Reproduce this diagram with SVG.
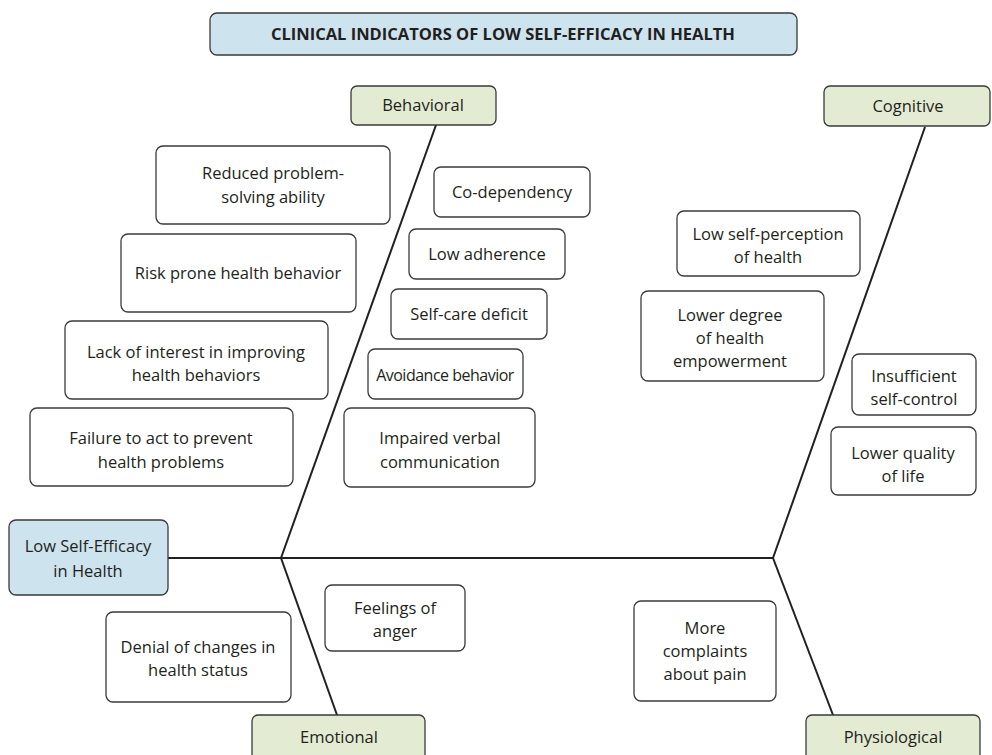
<svg xmlns="http://www.w3.org/2000/svg" width="992" height="755" viewBox="0 0 992 755">
<style>
  .box{fill:#ffffff;stroke:#3a3a3a;stroke-width:1.3}
  .blue{fill:#cde3ee;stroke:#3a3a3a;stroke-width:1.3}
  .green{fill:#e3ecd2;stroke:#3a3a3a;stroke-width:1.3}
  text{font-family:"Open Sans","Liberation Sans",sans-serif;font-size:16.5px;fill:#231f20;text-anchor:middle}
  .title{font-weight:bold;font-size:16.5px}
  .tight{font-size:16px;letter-spacing:-0.5px}
  .bone{stroke:#231f20;stroke-width:2;fill:none}
</style>
<rect width="992" height="755" fill="#ffffff"/>
<g id="connectors">
  <line class="bone" x1="168" y1="558" x2="773" y2="558"/>
  <line class="bone" x1="281" y1="558" x2="436" y2="125"/>
  <line class="bone" x1="773" y1="558" x2="925" y2="127"/>
  <line class="bone" x1="281" y1="558" x2="337" y2="715"/>
  <line class="bone" x1="773" y1="558" x2="833" y2="715"/>
</g>
<g id="title"><rect class="blue" x="210" y="13" width="587" height="42" rx="7"/><text class="title" x="503" y="40">CLINICAL INDICATORS OF LOW SELF-EFFICACY IN HEALTH</text></g>
<g id="behavioral"><rect class="green" x="351" y="86" width="145" height="39" rx="6"/><text x="423" y="111">Behavioral</text></g>
<g id="cognitive"><rect class="green" x="824" y="86" width="166" height="40" rx="6"/><text x="908" y="112">Cognitive</text></g>
<g id="effect"><rect class="blue" x="9" y="520" width="159" height="75" rx="7"/><text x="88" y="552">Low Self-Efficacy</text><text x="88" y="577">in Health</text></g>
<g id="emotional"><rect class="green" x="252" y="715" width="173" height="46" rx="6"/><text x="339" y="743">Emotional</text></g>
<g id="physiological"><rect class="green" x="806" y="715" width="174" height="46" rx="6"/><text x="893" y="743">Physiological</text></g>
<g id="reduced"><rect class="box" x="156" y="146" width="234" height="78" rx="7"/><text x="273" y="179">Reduced problem-</text><text x="273" y="203">solving ability</text></g>
<g id="codependency"><rect class="box" x="434" y="167" width="156" height="50" rx="7"/><text x="512" y="198">Co-dependency</text></g>
<g id="riskprone"><rect class="box" x="121" y="234" width="235" height="78" rx="7"/><text x="238" y="279">Risk prone health behavior</text></g>
<g id="adherence"><rect class="box" x="409" y="229" width="156" height="50" rx="7"/><text x="487" y="260">Low adherence</text></g>
<g id="selfcare"><rect class="box" x="391" y="289" width="156" height="50" rx="7"/><text x="469" y="320">Self-care deficit</text></g>
<g id="lackinterest"><rect class="box" x="65" y="321" width="263" height="78" rx="7"/><text x="196" y="358">Lack of interest in improving</text><text x="196" y="381">health behaviors</text></g>
<g id="avoidance"><rect class="box" x="368" y="349" width="155" height="50" rx="7"/><text class="tight" x="445" y="381">Avoidance behavior</text></g>
<g id="failure"><rect class="box" x="30" y="408" width="263" height="78" rx="7"/><text x="161" y="444">Failure to act to prevent</text><text x="161" y="468">health problems</text></g>
<g id="impaired"><rect class="box" x="344" y="408" width="191" height="79" rx="7"/><text x="440" y="444">Impaired verbal</text><text x="440" y="468">communication</text></g>
<g id="selfperception"><rect class="box" x="677" y="211" width="183" height="65" rx="7"/><text x="768" y="240">Low self-perception</text><text x="768" y="263">of health</text></g>
<g id="empowerment"><rect class="box" x="641" y="291" width="183" height="90" rx="7"/><text x="730" y="321">Lower degree</text><text x="730" y="344">of health</text><text x="730" y="367">empowerment</text></g>
<g id="selfcontrol"><rect class="box" x="852" y="354" width="124" height="61" rx="7"/><text x="914" y="382">Insufficient</text><text x="914" y="405">self-control</text></g>
<g id="quality"><rect class="box" x="831" y="427" width="145" height="68" rx="7"/><text x="903" y="459">Lower quality</text><text x="903" y="482">of life</text></g>
<g id="anger"><rect class="box" x="325" y="585" width="140" height="66" rx="7"/><text x="395" y="614">Feelings of</text><text x="395" y="637">anger</text></g>
<g id="denial"><rect class="box" x="106" y="612" width="185" height="90" rx="7"/><text x="198" y="653">Denial of changes in</text><text x="198" y="676">health status</text></g>
<g id="pain"><rect class="box" x="634" y="601" width="142" height="100" rx="7"/><text x="705" y="634">More</text><text x="705" y="657">complaints</text><text x="705" y="680">about pain</text></g>
</svg>
